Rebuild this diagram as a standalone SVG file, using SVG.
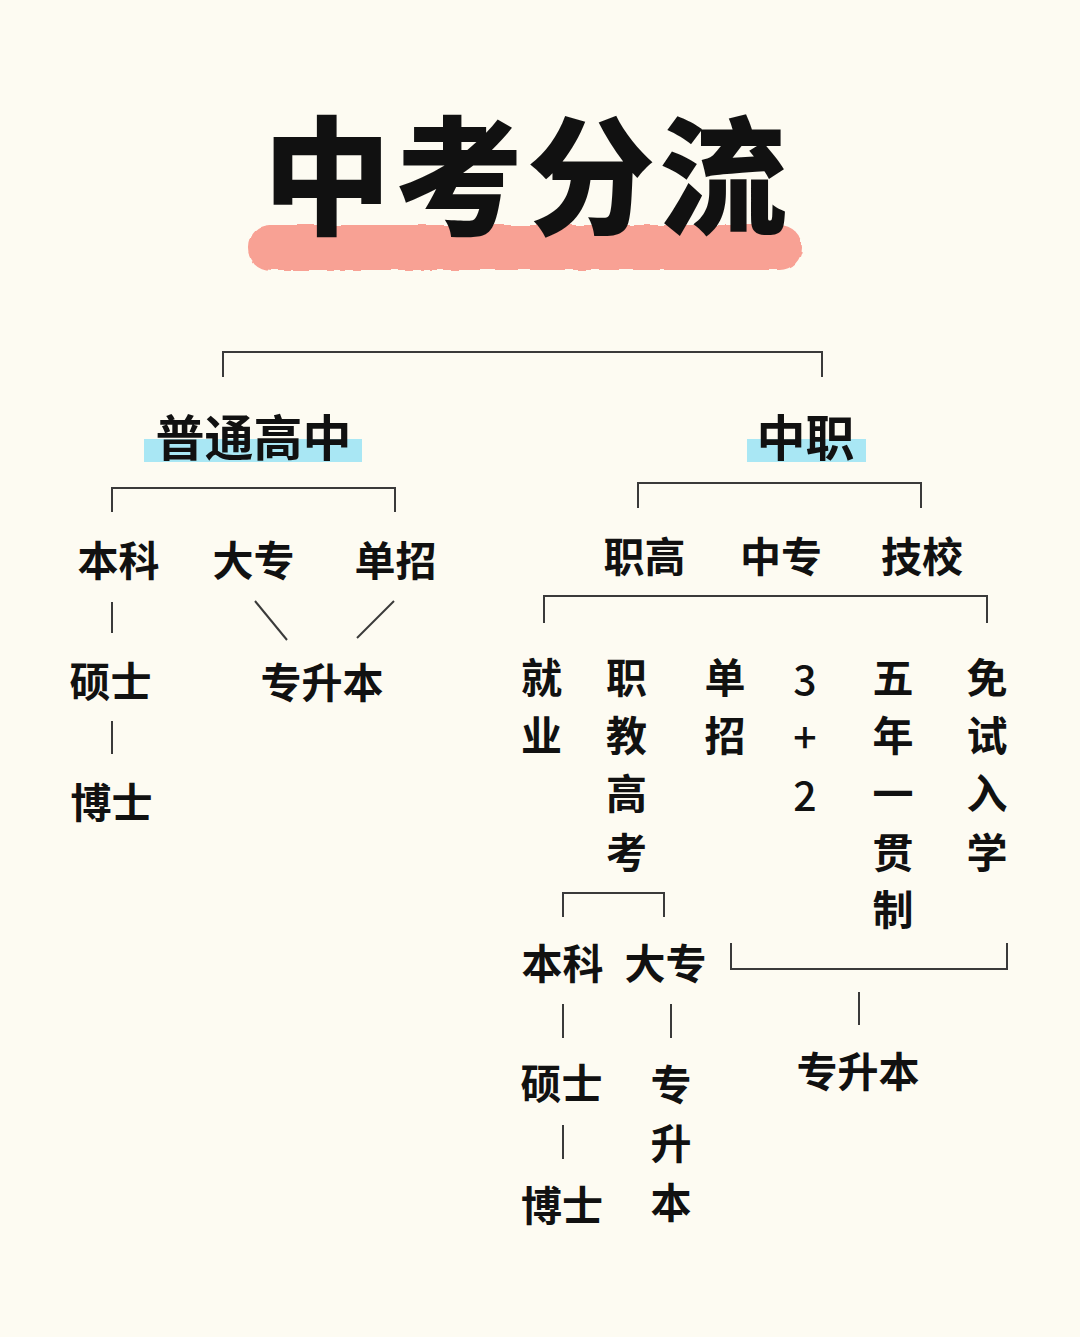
<svg xmlns="http://www.w3.org/2000/svg" width="1080" height="1337" viewBox="0 0 1080 1337">
  <defs>
    <filter id="rough" x="-5%" y="-30%" width="110%" height="160%">
      <feTurbulence type="fractalNoise" baseFrequency="0.06" numOctaves="2" seed="3" result="n"/>
      <feDisplacementMap in="SourceGraphic" in2="n" scale="4" xChannelSelector="R" yChannelSelector="G"/>
    </filter>
  </defs>
  <style>
    .t { font-family: "Noto Sans CJK SC", "Noto Sans", sans-serif; fill: #111; font-weight: 700; font-size: 41px; text-anchor: middle; }
    .d { font-weight: 500; }
    .h { font-size: 49px; }
    .title { font-size: 128px; font-weight: 900; letter-spacing: 4px; }
    .ln { stroke: #3a3a3a; stroke-width: 2; fill: none; }
    .cy { fill: #A9E7F4; }
  </style>
  <rect width="1080" height="1337" fill="#FDFBF2"/>

  <g id="title">
    <rect x="248" y="225" width="554" height="45" rx="22.5" fill="#F8A194" filter="url(#rough)"/>
    <text class="t title" x="527" y="225">中考分流</text>
  </g>

  <g id="connectors">
    <path class="ln" d="M223 377 V352 H822 V377"/>
    <path class="ln" d="M112 512 V488 H395 V512"/>
    <path class="ln" d="M638 508 V483 H921 V508"/>
    <path class="ln" d="M112 602 V633"/>
    <path class="ln" d="M255 601 L287 640"/>
    <path class="ln" d="M394 601 L357 638"/>
    <path class="ln" d="M112 721 V754"/>
    <path class="ln" d="M544 623 V596 H987 V623"/>
    <path class="ln" d="M563 917 V893 H664 V917"/>
    <path class="ln" d="M731 943 V969 H1007 V943"/>
    <path class="ln" d="M859 992 V1025"/>
    <path class="ln" d="M563 1004 V1038"/>
    <path class="ln" d="M671 1004 V1038"/>
    <path class="ln" d="M563 1125 V1159"/>
  </g>

  <g id="putong">
    <rect class="cy" x="144" y="439" width="218" height="23"/>
    <text class="t h" x="253.5" y="456">普通高中</text>
  </g>
  <g id="zhongzhi">
    <rect class="cy" x="747" y="439" width="119" height="23"/>
    <text class="t h" x="805.5" y="456">中职</text>
  </g>

  <g id="benke"><text class="t" x="118.5" y="576">本科</text></g>
  <g id="dazhuan"><text class="t" x="253.5" y="576">大专</text></g>
  <g id="danzhao"><text class="t" x="395.5" y="576">单招</text></g>
  <g id="shuoshi"><text class="t" x="110.5" y="697">硕士</text></g>
  <g id="zhuanshengben"><text class="t" x="322" y="698">专升本</text></g>
  <g id="boshi"><text class="t" x="111.5" y="818">博士</text></g>

  <g id="zhigao"><text class="t" x="644.5" y="572">职高</text></g>
  <g id="zhongzhuan"><text class="t" x="781" y="572">中专</text></g>
  <g id="jixiao"><text class="t" x="922" y="572">技校</text></g>

  <g id="jiuye">
    <text class="t" x="541.5" y="693">就</text>
    <text class="t" x="541.5" y="751">业</text>
  </g>
  <g id="zhijiaogaokao">
    <text class="t" x="626.5" y="693">职</text>
    <text class="t" x="626.5" y="751">教</text>
    <text class="t" x="626.5" y="809">高</text>
    <text class="t" x="626.5" y="868">考</text>
  </g>
  <g id="danzhao2">
    <text class="t" x="725" y="693">单</text>
    <text class="t" x="725" y="751">招</text>
  </g>
  <g id="sanjiaer">
    <text class="t d" x="805" y="695">3</text>
    <text class="t d" x="805" y="753">+</text>
    <text class="t d" x="805" y="811">2</text>
  </g>
  <g id="wunian">
    <text class="t" x="893" y="693">五</text>
    <text class="t" x="893" y="751">年</text>
    <text class="t" x="893" y="809">一</text>
    <text class="t" x="893" y="868">贯</text>
    <text class="t" x="893" y="925">制</text>
  </g>
  <g id="mianshi">
    <text class="t" x="987" y="693">免</text>
    <text class="t" x="987" y="751">试</text>
    <text class="t" x="987" y="809">入</text>
    <text class="t" x="987" y="868">学</text>
  </g>

  <g id="benke2"><text class="t" x="562.5" y="979">本科</text></g>
  <g id="dazhuan2"><text class="t" x="665.5" y="979">大专</text></g>
  <g id="zhuanshengben2"><text class="t" x="858" y="1087">专升本</text></g>
  <g id="shuoshi2"><text class="t" x="561.5" y="1099">硕士</text></g>
  <g id="boshi2"><text class="t" x="562" y="1221">博士</text></g>
  <g id="zhuanshengben3">
    <text class="t" x="671" y="1100">专</text>
    <text class="t" x="671" y="1159">升</text>
    <text class="t" x="671" y="1218">本</text>
  </g>
</svg>
